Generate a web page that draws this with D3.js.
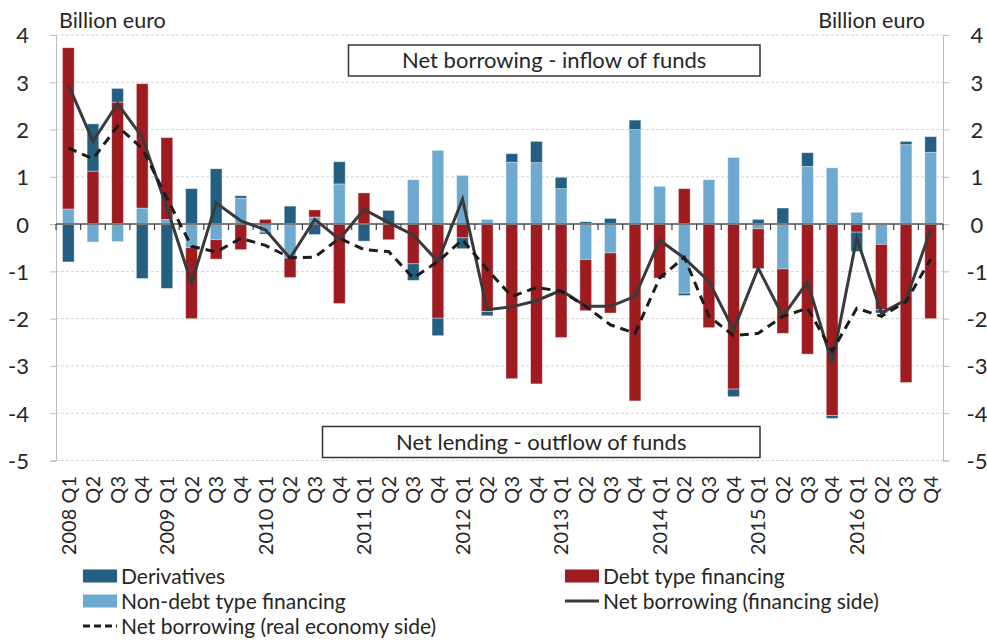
<!DOCTYPE html>
<html>
<head>
<meta charset="utf-8">
<script src="https://cdn.jsdelivr.net/npm/d3@7"></script>
<style>
  body { margin: 0; background: #fff; }
  text { font-family: Lato, "Open Sans", sans-serif; fill: #262626; }
</style>
</head>
<body>
<svg id="chart" width="987" height="640"></svg>
<script>
// quarters 2008 Q1 - 2016 Q4
var years    = [2008, 2009, 2010, 2011, 2012, 2013, 2014, 2015, 2016];
var quarters = ["Q1", "Q2", "Q3", "Q4"];

// billion euro
var nonDebt = [ 0.32,-0.38,-0.37, 0.34,  0.10,-0.50,-0.33, 0.55, -0.17,-0.72, 0.15, 0.85,
                0.00, 0.00, 0.94, 1.56,  1.03, 0.10, 1.31, 1.30,  0.75,-0.75,-0.61, 2.00,
                0.80,-1.46, 0.94, 1.41, -0.10,-0.95, 1.22, 1.19,  0.25,-0.43, 1.68, 1.52];
var debt    = [ 3.41, 1.12, 2.58, 2.63,  1.73,-1.50,-0.41,-0.54,  0.10,-0.41, 0.15,-1.68,
                0.66,-0.33,-0.84,-1.99, -0.29,-1.85,-3.27,-3.38, -2.40,-1.08,-1.27,-3.74,
               -1.14, 0.75,-2.19,-3.49, -0.84,-1.36,-2.75,-4.05, -0.17,-1.38,-3.35,-2.00];
var derivs  = [-0.80, 1.00, 0.29,-1.15, -1.36, 0.75, 1.17, 0.05, -0.04, 0.38,-0.22, 0.47,
               -0.36, 0.29,-0.35,-0.37, -0.23,-0.09, 0.18, 0.45,  0.24, 0.05, 0.12, 0.20,
                0.00,-0.05, 0.00,-0.16,  0.10, 0.34, 0.29,-0.06, -0.41,-0.07, 0.07, 0.33];
var netFin  = [ 2.95, 1.75, 2.55, 1.84,  0.35,-1.25, 0.45, 0.07, -0.12,-0.72, 0.10,-0.32,
                0.31, 0.03,-0.23,-0.79,  0.53,-1.81,-1.75,-1.62, -1.40,-1.74,-1.74,-1.53,
               -0.34,-0.72,-1.21,-2.24, -0.93,-1.95,-1.22,-2.94, -0.29,-1.88,-1.60,-0.12];
var netReal = [ 1.61, 1.38, 2.07, 1.60,  0.55,-0.47,-0.59,-0.30, -0.45,-0.71,-0.70,-0.30,
               -0.54,-0.58,-1.14,-0.79, -0.33,-0.96,-1.53,-1.34, -1.42,-1.74,-2.13,-2.31,
               -1.14,-0.70,-1.95,-2.36, -2.31,-1.95,-1.78,-2.69, -1.78,-1.95,-1.64,-0.74];

var yTicks = [-5, -4, -3, -2, -1, 0, 1, 2, 3, 4];

var colors = {
    nonDebt: "#6eaad0",
    debt:    "#9e1b20",
    derivs:  "#245f82"
};

function drawChart() {

    //////////////////////////////////////////////////////
    // build rows
    //////////////////////////////////////////////////////

    var periods = [];
    years.forEach(function(yr) {
        quarters.forEach(function(q) { periods.push(yr + " " + q); });
    });

    var rows = periods.map(function(p, i) {
        return { period: p, nonDebt: nonDebt[i], debt: debt[i], derivs: derivs[i],
                 netFin: netFin[i], netReal: netReal[i] };
    });

    var svg = d3.select("#chart");

    var x0 = 56, x1 = 943, y0 = 35, y1 = 460.5;

    var x = d3.scaleBand()
              .domain(periods)
              .range([x0, x1])
              .paddingInner(0.525)
              .paddingOuter(0.2625);

    var y = d3.scaleLinear()
              .domain([-5, 4])
              .range([y1, y0]);

    // gridlines
    svg.append("g")
       .selectAll("line")
       .data(yTicks.filter(function(d) { return d !== 0; }))
       .enter().append("line")
       .attr("x1", x0).attr("x2", x1)
       .attr("y1", function(d) { return y(d); })
       .attr("y2", function(d) { return y(d); })
       .attr("stroke", "#d3d3d3")
       .attr("stroke-dasharray", "3,2");

    // left and right axes, plain hyphen for negatives like the original
    var fmt = function(d) { return String(d); };
    var yAxisLeft  = d3.axisLeft(y).tickValues(yTicks).tickFormat(fmt).tickSize(6).tickPadding(21);
    var yAxisRight = d3.axisRight(y).tickValues(yTicks).tickFormat(fmt).tickSize(6).tickPadding(28);

    [[yAxisLeft, x0, "end"], [yAxisRight, x1, "middle"]].forEach(function(a) {
        var g = svg.append("g")
                   .attr("transform", "translate(" + a[1] + ",0)")
                   .call(a[0]);
        g.select(".domain").attr("stroke", "#bdbdbd");
        g.selectAll(".tick line").attr("stroke", "#bdbdbd");
        g.selectAll(".tick text")
         .style("font-size", "22px")
         .style("font-family", "Lato, sans-serif")
         .attr("text-anchor", a[2])
         .attr("fill", "#262626")
         .attr("dy", "0.36em");
    });

    // stacked bars (positives up, negatives down, in series order)
    var keys = ["nonDebt", "debt", "derivs"];
    var series = d3.stack()
                   .keys(keys)
                   .offset(d3.stackOffsetDiverging)(rows);

    svg.append("g")
       .selectAll("g")
       .data(series)
       .enter().append("g")
       .attr("fill", function(d) { return colors[d.key]; })
       .selectAll("rect")
       .data(function(d) { return d; })
       .enter().append("rect")
       .attr("x", function(d) { return x(d.data.period); })
       .attr("width", x.bandwidth())
       .attr("y", function(d) { return y(Math.max(d[0], d[1])); })
       .attr("height", function(d) { return Math.abs(y(d[0]) - y(d[1])); })
       .attr("stroke", "rgba(255,255,255,0.45)")
       .attr("stroke-width", 0.8);

    // zero line with category ticks
    svg.append("line")
       .attr("x1", x0).attr("x2", x1)
       .attr("y1", y(0)).attr("y2", y(0))
       .attr("stroke", "#7a7a7a")
       .attr("stroke-width", 2);

    svg.append("g")
       .selectAll("line")
       .data(d3.range(periods.length + 1))
       .enter().append("line")
       .attr("x1", function(i) { return x0 + i * x.step(); })
       .attr("x2", function(i) { return x0 + i * x.step(); })
       .attr("y1", y(0))
       .attr("y2", y(0) + 6)
       .attr("stroke", "#404040")
       .attr("stroke-width", 1.2);

    // lines
    var cx = function(d) { return x(d.period) + x.bandwidth() / 2; };

    svg.append("path")
       .datum(rows)
       .attr("fill", "none")
       .attr("stroke", "#3a3a3a")
       .attr("stroke-width", 3)
       .attr("d", d3.line().x(cx).y(function(d) { return y(d.netFin); }));

    svg.append("path")
       .datum(rows)
       .attr("fill", "none")
       .attr("stroke", "#1c1c1c")
       .attr("stroke-width", 3)
       .attr("stroke-dasharray", "9,6")
       .attr("d", d3.line().x(cx).y(function(d) { return y(d.netReal); }));

    // x labels (rotated)
    svg.append("g")
       .selectAll("text")
       .data(periods)
       .enter().append("text")
       .attr("transform", function(d) {
           return "translate(" + (x(d) + x.bandwidth() / 2) + ",476) rotate(-90)";
       })
       .attr("text-anchor", "end")
       .attr("dy", "0.36em")
       .style("font-size", "20px")
       .text(function(d) { return d.slice(5) === "Q1" ? d : d.slice(5); });

    // units
    svg.append("text").attr("x", 59).attr("y", 28).style("font-size", "21.5px").text("Billion euro");
    svg.append("text").attr("x", 925).attr("y", 28).attr("text-anchor", "end")
       .style("font-size", "21.5px").text("Billion euro");

    // annotation boxes
    var boxes = [
        { label: "Net borrowing - inflow of funds", bx0: 348.5, bx1: 760, by0: 45,    by1: 76 },
        { label: "Net lending - outflow of funds",  bx0: 322.5, bx1: 760, by0: 426.5, by1: 457.5 }
    ];
    boxes.forEach(function(b) {
        svg.append("rect")
           .attr("x", b.bx0).attr("y", b.by0)
           .attr("width", b.bx1 - b.bx0).attr("height", b.by1 - b.by0)
           .attr("fill", "#fff").attr("stroke", "#333").attr("stroke-width", 1.5);
        svg.append("text")
           .attr("x", (b.bx0 + b.bx1) / 2).attr("y", (b.by0 + b.by1) / 2)
           .attr("dy", "0.36em").attr("text-anchor", "middle")
           .style("font-size", "22px").text(b.label);
    });

    // legend
    var legend = [
        { label: "Derivatives",                       kind: "rect",   color: colors.derivs,  lx: 83,  ly: 576 },
        { label: "Debt type financing",               kind: "rect",   color: colors.debt,    lx: 565, ly: 576 },
        { label: "Non-debt type financing",           kind: "rect",   color: colors.nonDebt, lx: 83,  ly: 601 },
        { label: "Net borrowing (financing side)",    kind: "solid",  color: "#3a3a3a",      lx: 565, ly: 601 },
        { label: "Net borrowing (real economy side)", kind: "dashed", color: "#1c1c1c",      lx: 83,  ly: 626 }
    ];
    var lg = svg.append("g").selectAll("g").data(legend).enter().append("g")
                .attr("transform", function(d) { return "translate(" + d.lx + "," + d.ly + ")"; });
    lg.filter(function(d) { return d.kind === "rect"; })
      .append("rect")
      .attr("x", 0).attr("y", -6.5).attr("width", 34).attr("height", 13)
      .attr("fill", function(d) { return d.color; });
    lg.filter(function(d) { return d.kind !== "rect"; })
      .append("line")
      .attr("x1", 0).attr("x2", 34).attr("y1", 0).attr("y2", 0)
      .attr("stroke", function(d) { return d.color; })
      .attr("stroke-width", 3)
      .attr("stroke-dasharray", function(d) { return d.kind === "dashed" ? "7,4" : null; });
    lg.append("text")
      .attr("x", 38).attr("y", 0).attr("dy", "0.36em")
      .style("font-size", "21px")
      .text(function(d) { return d.label; });
}

drawChart();
</script>
</body>
</html>
